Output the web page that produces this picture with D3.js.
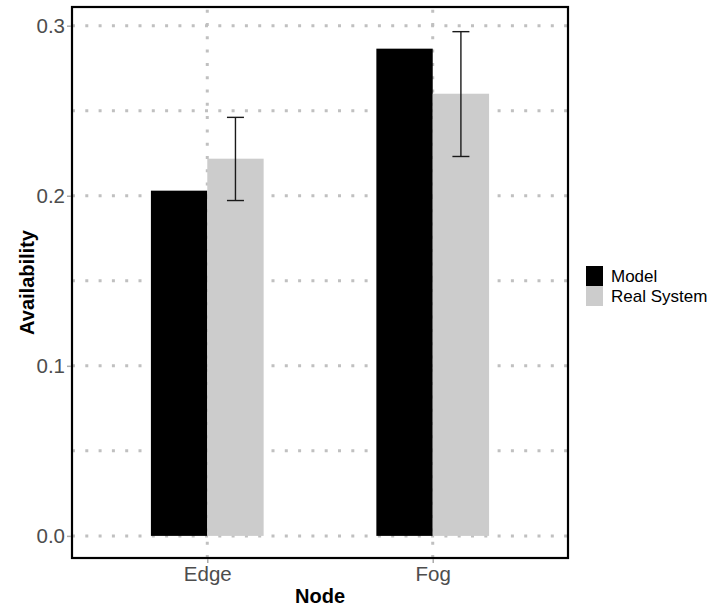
<!DOCTYPE html>
<html>
<head>
<meta charset="utf-8">
<script src="https://cdn.jsdelivr.net/npm/d3@7"></script>
<style>
  html, body { margin: 0; padding: 0; background: #fff; }
  svg { display: block; font-family: "Liberation Sans", Arial, Helvetica, sans-serif; }
</style>
</head>
<body>
<svg id="chart" width="727" height="608"></svg>
<script>
// ---- data ----
const categories = ["Edge", "Fog"];
const seriesNames = ["Model", "Real System"];
const modelValues = [0.203, 0.2865];
const realValues = [0.2218, 0.260];
const realErrLow = [0.1972, 0.2231];
const realErrHigh = [0.2461, 0.2965];
const yTicks = [0.0, 0.1, 0.2, 0.3];
const yMinorTicks = [0.05, 0.15, 0.25];
const seriesColors = ["#000000", "#cccccc"];

// ---- layout ----
const svg = d3.select("#chart");
const panel = { left: 72, top: 7, right: 568, bottom: 558 };

const y = d3.scaleLinear().domain([-0.013, 0.311]).range([panel.bottom, panel.top]);
// discrete axis with ggplot-like expansion (0.6 units each side)
const xc = d3.scaleLinear().domain([1 - 0.6, categories.length + 0.6]).range([panel.left, panel.right]);
const xPos = d3.scalePoint().domain(categories).range([xc(1), xc(categories.length)]);
const groupWidth = xc(1.5) - xc(1.0); // 0.5 units dodge width
const xInner = d3.scaleBand().domain(seriesNames).range([-groupWidth / 2, groupWidth / 2]).padding(0);

const gridColor = "#c0c0c0";
const dash = "3 10.3";

// gridlines
const grid = svg.append("g");
grid.selectAll("line.hy").data(yTicks.concat(yMinorTicks)).enter().append("line")
  .attr("x1", panel.left).attr("x2", panel.right)
  .attr("y1", d => y(d)).attr("y2", d => y(d))
  .attr("stroke", gridColor).attr("stroke-width", 3).attr("stroke-dasharray", dash);
grid.selectAll("line.vx").data(categories).enter().append("line")
  .attr("x1", d => xPos(d)).attr("x2", d => xPos(d))
  .attr("y1", panel.bottom).attr("y2", panel.top)
  .attr("stroke", gridColor).attr("stroke-width", 3).attr("stroke-dasharray", dash);

// bars
const barsData = [];
categories.forEach((c, i) => {
  barsData.push({ cat: c, series: seriesNames[0], value: modelValues[i] });
  barsData.push({ cat: c, series: seriesNames[1], value: realValues[i] });
});
svg.append("g").selectAll("rect").data(barsData).enter().append("rect")
  .attr("x", d => xPos(d.cat) + xInner(d.series))
  .attr("width", xInner.bandwidth())
  .attr("y", d => y(d.value))
  .attr("height", d => y(0) - y(d.value))
  .attr("fill", d => seriesColors[seriesNames.indexOf(d.series)]);

// error bars on Real System
const capW = 17;
const eb = svg.append("g").attr("stroke", "#1a1a1a").attr("stroke-width", 1.4).attr("fill", "none");
categories.forEach((c, i) => {
  const cx = xPos(c) + xInner(seriesNames[1]) + xInner.bandwidth() / 2;
  eb.append("line").attr("x1", cx).attr("x2", cx).attr("y1", y(realErrLow[i])).attr("y2", y(realErrHigh[i]));
  eb.append("line").attr("x1", cx - capW / 2).attr("x2", cx + capW / 2).attr("y1", y(realErrLow[i])).attr("y2", y(realErrLow[i]));
  eb.append("line").attr("x1", cx - capW / 2).attr("x2", cx + capW / 2).attr("y1", y(realErrHigh[i])).attr("y2", y(realErrHigh[i]));
});

// panel border
svg.append("rect")
  .attr("x", panel.left).attr("y", panel.top)
  .attr("width", panel.right - panel.left).attr("height", panel.bottom - panel.top)
  .attr("fill", "none").attr("stroke", "#000").attr("stroke-width", 2.2);

// axes
const yAxis = d3.axisLeft(y).tickValues(yTicks).tickFormat(d3.format(".1f")).tickSize(4).tickPadding(2);
const gy = svg.append("g").attr("transform", `translate(${panel.left - 1},0)`).call(yAxis);
gy.select(".domain").remove();
gy.selectAll(".tick line").attr("stroke", "#aaaaaa").attr("stroke-width", 1.5);
gy.selectAll(".tick text").attr("fill", "#4d4d4d").style("font-size", "20.5px")
  .style("font-family", "'Liberation Sans', Arial, sans-serif");

const xAxis = d3.axisBottom(xPos).tickSize(4).tickPadding(3);
const gx = svg.append("g").attr("transform", `translate(0,${panel.bottom + 1})`).call(xAxis);
gx.select(".domain").remove();
gx.selectAll(".tick line").attr("stroke", "#aaaaaa").attr("stroke-width", 1.5);
gx.selectAll(".tick text").attr("fill", "#4d4d4d").style("font-size", "20.5px")
  .style("font-family", "'Liberation Sans', Arial, sans-serif");

// axis titles
svg.append("text")
  .attr("x", (panel.left + panel.right) / 2).attr("y", 603)
  .attr("text-anchor", "middle").attr("font-weight", "bold").style("font-size", "20px")
  .attr("fill", "#000").text("Node");
svg.append("text")
  .attr("transform", `translate(34,${(panel.top + panel.bottom) / 2}) rotate(-90)`)
  .attr("text-anchor", "middle").attr("font-weight", "bold").style("font-size", "20px")
  .attr("fill", "#000").text("Availability");

// legend
const legend = svg.append("g").attr("transform", "translate(586,266)");
const keyH = 20, keyW = 17;
seriesNames.forEach((s, i) => {
  legend.append("rect").attr("x", 0).attr("y", i * keyH).attr("width", keyW).attr("height", keyH)
    .attr("fill", seriesColors[i]);
  legend.append("text").attr("x", keyW + 8).attr("y", i * keyH + keyH / 2)
    .attr("dy", "0.36em").style("font-size", "17px").attr("fill", "#000").text(s);
});
</script>
</body>
</html>
